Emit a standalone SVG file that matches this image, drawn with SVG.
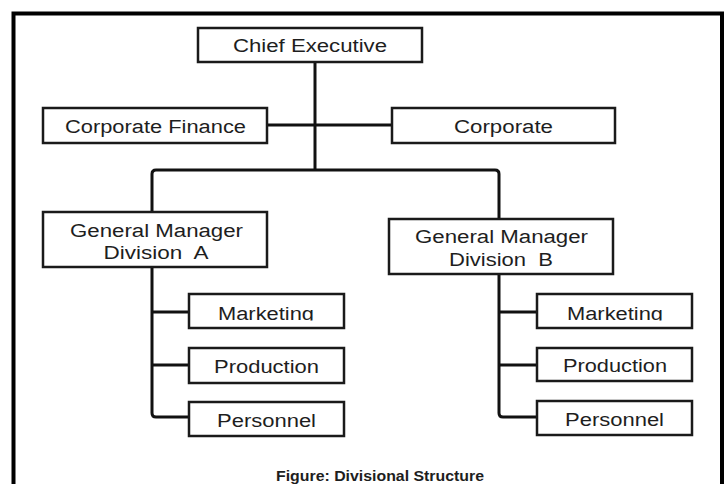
<svg xmlns="http://www.w3.org/2000/svg" width="727" height="484" viewBox="0 0 727 484">
<style>
  .box { fill: #ffffff; stroke: #1a1a1a; stroke-width: 2.5; }
  .lbl { font-family: "Liberation Sans", Arial, sans-serif; font-size: 18px; fill: #1e1e1e; text-anchor: middle; }
  .cap { font-family: "Liberation Sans", Arial, sans-serif; font-size: 15px; font-weight: bold; fill: #1e1e1e; text-anchor: middle; }
  .conn { fill: none; stroke: #111111; stroke-width: 3; stroke-linejoin: round; }
</style>
<defs>
  <clipPath id="clipMktA"><rect x="189" y="294" width="156" height="26.5"/></clipPath>
  <clipPath id="clipMktB"><rect x="537" y="294" width="156" height="26.5"/></clipPath>
</defs>
<rect x="0" y="0" width="727" height="484" fill="#ffffff"/>
<rect id="frame" x="13.5" y="13.5" width="708.5" height="480" fill="none" stroke="#000000" stroke-width="4"/>

<g id="connectors">
  <path class="conn" d="M315,62 V170"/>
  <path class="conn" d="M267,125 H392"/>
  <path class="conn" d="M152,212 V174 Q152,170 156,170 H495 Q499,170 499,174 V219"/>
  <path class="conn" d="M152,267 V413 Q152,417 156,417 H189"/>
  <path class="conn" d="M152,312 H189"/>
  <path class="conn" d="M152,365 H189"/>
  <path class="conn" d="M499,274 V413 Q499,417 503,417 H537"/>
  <path class="conn" d="M499,312 H537"/>
  <path class="conn" d="M499,365 H537"/>
</g>

<g id="chief-executive">
  <rect class="box" x="198" y="28" width="224" height="34"/>
  <text class="lbl" x="310" y="52" textLength="154" lengthAdjust="spacingAndGlyphs">Chief Executive</text>
</g>
<g id="corporate-finance">
  <rect class="box" x="43" y="108" width="224" height="35"/>
  <text class="lbl" x="155.5" y="133" textLength="181" lengthAdjust="spacingAndGlyphs">Corporate Finance</text>
</g>
<g id="corporate">
  <rect class="box" x="392" y="108" width="223" height="35"/>
  <text class="lbl" x="503.5" y="133" textLength="99" lengthAdjust="spacingAndGlyphs">Corporate</text>
</g>
<g id="gm-a">
  <rect class="box" x="43" y="212" width="224" height="55"/>
  <text class="lbl" x="156.5" y="237" textLength="173" lengthAdjust="spacingAndGlyphs">General Manager</text>
  <text class="lbl" x="156" y="259" textLength="105" lengthAdjust="spacingAndGlyphs" xml:space="preserve">Division  A</text>
</g>
<g id="gm-b">
  <rect class="box" x="389" y="219" width="224" height="55"/>
  <text class="lbl" x="501.5" y="243" textLength="173" lengthAdjust="spacingAndGlyphs">General Manager</text>
  <text class="lbl" x="501" y="266" textLength="104" lengthAdjust="spacingAndGlyphs" xml:space="preserve">Division  B</text>
</g>
<g id="marketing-a">
  <rect class="box" x="189" y="294" width="155" height="34"/>
  <text class="lbl" x="266" y="320" textLength="96" lengthAdjust="spacingAndGlyphs" clip-path="url(#clipMktA)">Marketing</text>
</g>
<g id="production-a">
  <rect class="box" x="189" y="348" width="155" height="35"/>
  <text class="lbl" x="266.5" y="373" textLength="105" lengthAdjust="spacingAndGlyphs">Production</text>
</g>
<g id="personnel-a">
  <rect class="box" x="189" y="402" width="155" height="34"/>
  <text class="lbl" x="266.5" y="427" textLength="99" lengthAdjust="spacingAndGlyphs">Personnel</text>
</g>
<g id="marketing-b">
  <rect class="box" x="537" y="294" width="155" height="34"/>
  <text class="lbl" x="615" y="320" textLength="96" lengthAdjust="spacingAndGlyphs" clip-path="url(#clipMktB)">Marketing</text>
</g>
<g id="production-b">
  <rect class="box" x="537" y="348" width="155" height="33"/>
  <text class="lbl" x="615" y="372" textLength="104" lengthAdjust="spacingAndGlyphs">Production</text>
</g>
<g id="personnel-b">
  <rect class="box" x="537" y="401" width="155" height="34"/>
  <text class="lbl" x="614.5" y="426" textLength="99" lengthAdjust="spacingAndGlyphs">Personnel</text>
</g>

<text id="caption" class="cap" x="380" y="481" textLength="208" lengthAdjust="spacingAndGlyphs">Figure: Divisional Structure</text>
</svg>
